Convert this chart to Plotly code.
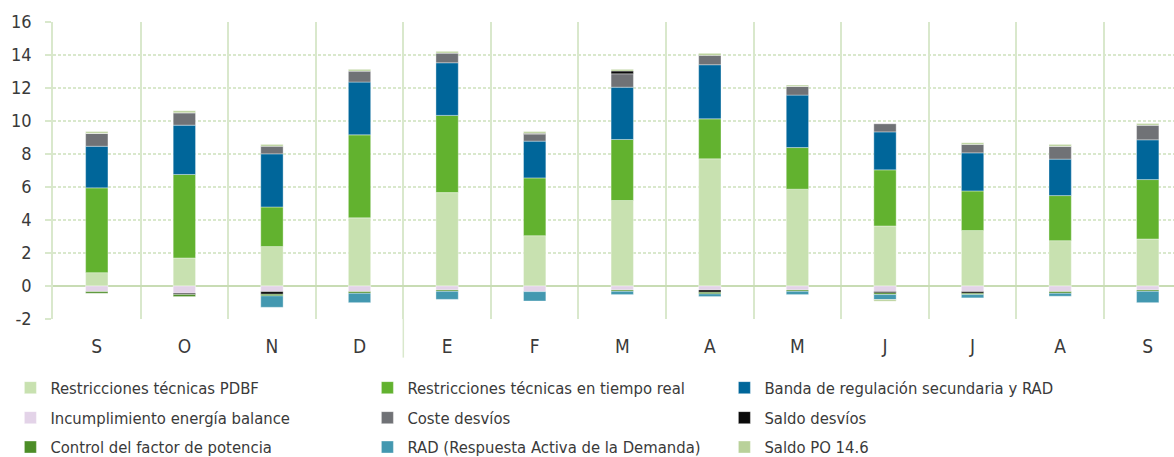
import numpy as np
import plotly.graph_objects as go

# Monthly cost components of the adjustment services (€/MWh), Sep 2022 - Sep 2023
months = ["S", "O", "N", "D", "E", "F", "M", "A", "M", "J", "J", "A", "S"]

pdbf = [0.81, 1.70, 2.39, 4.13, 5.66, 3.05, 5.18, 7.71, 5.87, 3.64, 3.36, 2.75, 2.85]
tiempo_real = [5.14, 5.06, 2.40, 5.03, 4.68, 3.50, 3.70, 2.42, 2.52, 3.40, 2.40, 2.73, 3.60]
banda_rad = [2.52, 2.99, 3.22, 3.20, 3.19, 2.23, 3.17, 3.28, 3.18, 2.30, 2.31, 2.21, 2.41]
incumplimiento = [-0.34, -0.44, -0.34, -0.34, -0.24, -0.34, -0.24, -0.24, -0.24, -0.34, -0.34, -0.34, -0.24]
coste_desvios = [0.79, 0.75, 0.46, 0.67, 0.59, 0.42, 0.81, 0.57, 0.53, 0.49, 0.51, 0.78, 0.89]
saldo_desvios = [0.00, -0.08, -0.16, 0.00, 0.00, 0.06, 0.17, -0.14, 0.00, -0.08, -0.10, 0.00, 0.00]
control_fp = [-0.10, -0.12, -0.10, -0.10, -0.08, 0.00, -0.08, -0.10, -0.08, -0.10, -0.08, -0.10, -0.08]
rad = [0.00, 0.00, -0.69, -0.57, -0.49, -0.57, -0.20, -0.16, -0.20, -0.30, -0.20, -0.18, -0.69]
saldo_po146 = [0.10, 0.12, 0.11, 0.10, 0.10, 0.10, 0.10, 0.12, 0.08, -0.10, 0.10, 0.11, 0.10]

y_ticks = [-2, 0, 2, 4, 6, 8, 10, 12, 14, 16]
y_tick_labels = ["-2", "0", "2", "4", "6", "8", "10", "12", "14", "16"]

series = [
    ("Restricciones técnicas PDBF", pdbf, "#c8e1b0", "legend"),
    ("Restricciones técnicas en tiempo real", tiempo_real, "#62b22f", "legend"),
    ("Banda de regulación secundaria y RAD", banda_rad, "#00669a", "legend"),
    ("Incumplimiento energía balance", incumplimiento, "#e3d3e8", "legend2"),
    ("Coste desvíos", coste_desvios, "#707276", "legend2"),
    ("Saldo desvíos", saldo_desvios, "#0a0a0a", "legend2"),
    ("Control del factor de potencia", control_fp, "#4c8d27", "legend3"),
    ("RAD (Respuesta Activa de la Demanda)", rad, "#4398b0", "legend3"),
    ("Saldo PO 14.6", saldo_po146, "#b9d19a", "legend3"),
]

FONT = "Liberation Sans Narrow, DejaVu Sans Condensed, Roboto, sans-serif"
TEXT = "#3a3a3a"
GRID = "#d9e8cc"

x = np.arange(len(months))

fig = go.Figure()
for name, vals, color, leg in series:
    fig.add_trace(go.Bar(
        x=x, y=vals, name=name, legend=leg,
        marker=dict(color=color, line=dict(color="rgba(255,255,255,0.6)", width=0.6)),
        hoverinfo="skip",
    ))

legend_common = dict(
    orientation="h", xref="paper", yref="paper", xanchor="left", yanchor="middle",
    entrywidth=312, entrywidthmode="pixels", itemwidth=30,
    font=dict(family=FONT, size=16.5, color=TEXT), bgcolor="rgba(0,0,0,0)",
    traceorder="normal", itemclick=False, itemdoubleclick=False,
)

fig.update_layout(
    width=1174, height=457,
    margin=dict(l=53, r=0, t=22, b=138, autoexpand=False),
    paper_bgcolor="white", plot_bgcolor="white",
    barmode="relative", bargap=0.745,
    font=dict(family=FONT, color=TEXT),
    legend=dict(x=-0.038, y=-0.232, **legend_common),
    legend2=dict(x=-0.038, y=-0.333, **legend_common),
    legend3=dict(x=-0.038, y=-0.432, **legend_common),
    xaxis=dict(
        range=[-0.5, 12.3], tickmode="array", tickvals=x, ticktext=months,
        showgrid=False, zeroline=False, showline=False, ticks="",
        tickfont=dict(family=FONT, size=19, color=TEXT), ticklabelstandoff=14,
        minor=dict(tickmode="linear", tick0=-0.5, dtick=1, showgrid=True,
                   gridcolor=GRID, gridwidth=1.5, ticks=""),
    ),
    yaxis=dict(
        range=[-2, 16], tickmode="array", tickvals=y_ticks, ticktext=y_tick_labels,
        showgrid=True, gridcolor=GRID, gridwidth=1.5, griddash="3px,2px",
        zeroline=True, zerolinecolor="#c8dcb4", zerolinewidth=2,
        ticks="outside", ticklen=6, tickwidth=1.5, tickcolor=GRID,
        showline=True, linecolor=GRID, linewidth=1.5,
        tickfont=dict(family=FONT, size=18, color=TEXT), ticklabelstandoff=10,
    ),
    showlegend=True,
)

# Calendar-year separator between December and January
fig.add_shape(type="line", xref="x", yref="paper", x0=3.5, x1=3.5, y0=-0.13, y1=0,
              line=dict(color=GRID, width=1.5))

fig.write_html("out.html")
